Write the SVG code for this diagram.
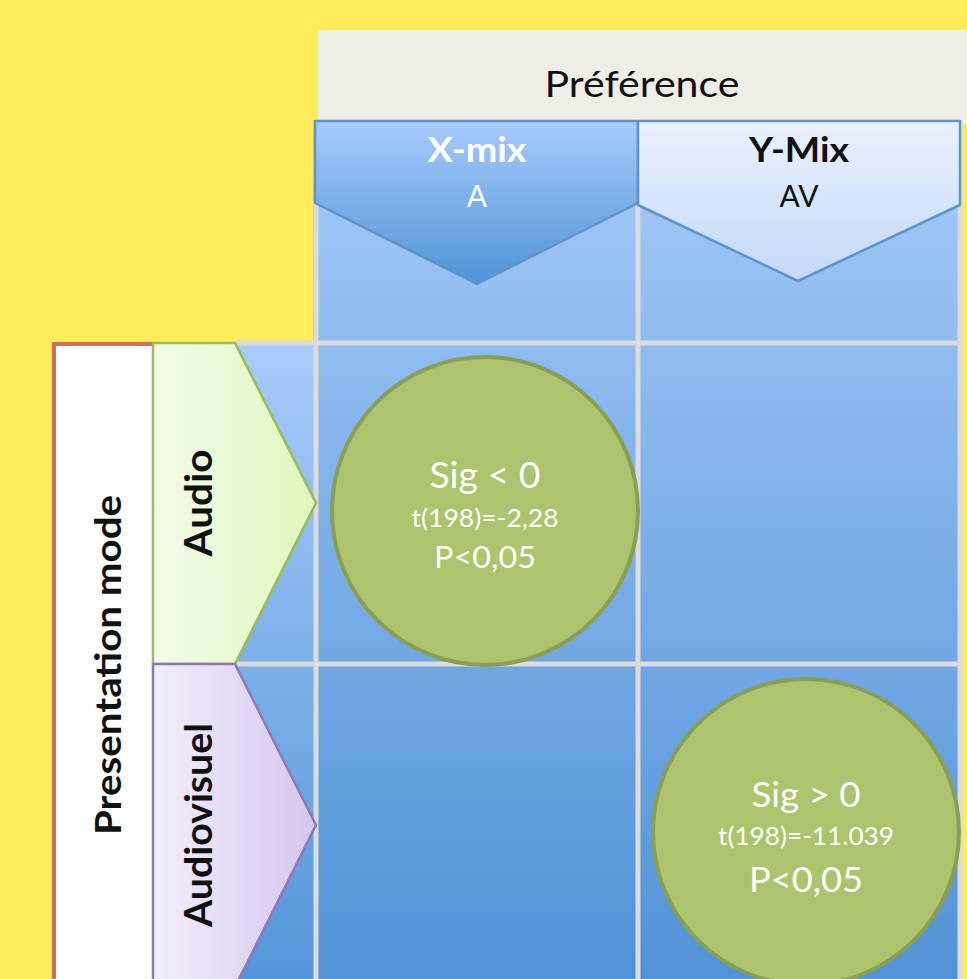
<svg xmlns="http://www.w3.org/2000/svg" width="967" height="979" viewBox="0 0 967 979">
  <defs>
    <linearGradient id="gBlueMain" x1="0" y1="120" x2="0" y2="979" gradientUnits="userSpaceOnUse">
      <stop offset="0" stop-color="#A6CAF9"/>
      <stop offset="1" stop-color="#5193D6"/>
    </linearGradient>
    <linearGradient id="gBlueLeft" x1="0" y1="343" x2="0" y2="979" gradientUnits="userSpaceOnUse">
      <stop offset="0" stop-color="#A8CBFA"/>
      <stop offset="1" stop-color="#5396D8"/>
    </linearGradient>
    <linearGradient id="gXmix" x1="0" y1="0" x2="0" y2="1">
      <stop offset="0" stop-color="#A7CBFB"/>
      <stop offset="1" stop-color="#5094D7"/>
    </linearGradient>
    <linearGradient id="gYmix" x1="0" y1="0" x2="0" y2="1">
      <stop offset="0" stop-color="#EAF2FD"/>
      <stop offset="1" stop-color="#C2D9F8"/>
    </linearGradient>
    <linearGradient id="gAudio" x1="0" y1="0" x2="1" y2="0">
      <stop offset="0" stop-color="#F3FBE9"/>
      <stop offset="1" stop-color="#DEF7BC"/>
    </linearGradient>
    <linearGradient id="gAV" x1="0" y1="0" x2="1" y2="0">
      <stop offset="0" stop-color="#F2EEF9"/>
      <stop offset="1" stop-color="#D6C6EE"/>
    </linearGradient>
  </defs>
  <style>
    text { font-family: Lato, "Open Sans", "Liberation Sans", sans-serif; text-anchor: middle; }
    .grid { stroke: #DCDCDC; stroke-width: 5; fill: none; }
    .circle { fill: #ABC46D; stroke: #8A9F55; stroke-width: 4; }
    .wt { fill: #FFFFFF; }
    .bk { fill: #111111; }
    .bold { font-weight: bold; }
  </style>

  <rect x="0" y="0" width="967" height="979" fill="#FEEC5B"/>

  <!-- header band -->
  <g id="preference">
    <rect x="318" y="30" width="649" height="94" fill="#EFEEE6"/>
    <text x="642" y="97" font-size="37" class="bk" textLength="195" lengthAdjust="spacingAndGlyphs">Préférence</text>
  </g>

  <!-- blue table background -->
  <rect x="313" y="120" width="649" height="859" fill="url(#gBlueMain)"/>
  <rect x="235" y="343" width="81" height="636" fill="url(#gBlueLeft)"/>

  <!-- grid lines (connectors group) -->
  <g id="connectors">
    <line class="grid" x1="316" y1="120" x2="316" y2="979"/>
    <line class="grid" x1="638" y1="120" x2="638" y2="979"/>
    <line class="grid" x1="960" y1="120" x2="960" y2="979"/>
    <line class="grid" x1="235" y1="343" x2="962" y2="343"/>
    <line class="grid" x1="235" y1="664" x2="962" y2="664"/>
  </g>

  <g id="xmix">
    <path d="M315,121 L638,121 L638,203 L477,284 L315,203 Z" fill="url(#gXmix)" stroke="#6192C9" stroke-width="2.5" stroke-linejoin="round"/>
    <text x="477" y="162" font-size="35" class="wt bold" textLength="99" lengthAdjust="spacingAndGlyphs">X-mix</text>
    <text x="477" y="207" font-size="30" class="wt">A</text>
  </g>

  <g id="ymix">
    <path d="M638,121 L960,121 L960,205 L798,281 L638,205 Z" fill="url(#gYmix)" stroke="#6192C9" stroke-width="2.5" stroke-linejoin="round"/>
    <text x="799" y="162" font-size="35" class="bk bold" textLength="100" lengthAdjust="spacingAndGlyphs">Y-Mix</text>
    <text x="799" y="207" font-size="30" class="bk">AV</text>
  </g>

  <g id="presentation-mode">
    <rect x="54" y="344" width="100" height="660" fill="#FFFFFF" stroke="#D46A64" stroke-width="4"/>
    <text transform="translate(121,665) rotate(-90)" font-size="37" class="bk bold" textLength="340" lengthAdjust="spacingAndGlyphs">Presentation mode</text>
  </g>

  <g id="audio">
    <path d="M153,343 L235,343 L316,503 L235,664 L153,664 Z" fill="url(#gAudio)" stroke="#9BBB59" stroke-width="2.5" stroke-linejoin="miter"/>
    <text transform="translate(212,503) rotate(-90)" font-size="38" class="bk bold" textLength="107" lengthAdjust="spacingAndGlyphs">Audio</text>
  </g>

  <g id="audiovisuel">
    <path d="M153,664 L235,664 L316,825 L235,987 L153,987 Z" fill="url(#gAV)" stroke="#8E78B6" stroke-width="2.5" stroke-linejoin="miter"/>
    <text transform="translate(212,825) rotate(-90)" font-size="38" class="bk bold" textLength="204" lengthAdjust="spacingAndGlyphs">Audiovisuel</text>
  </g>

  <g id="sig-audio">
    <ellipse class="circle" cx="485" cy="511" rx="153" ry="154"/>
    <text x="485" y="488" font-size="37" class="wt" textLength="111" lengthAdjust="spacingAndGlyphs">Sig &lt; 0</text>
    <text x="485" y="527" font-size="25" class="wt" textLength="147" lengthAdjust="spacingAndGlyphs">t(198)=-2,28</text>
    <text x="485" y="568" font-size="30" class="wt" textLength="102" lengthAdjust="spacingAndGlyphs">P&lt;0,05</text>
  </g>

  <g id="sig-av">
    <circle class="circle" cx="806" cy="832" r="153"/>
    <text x="806" y="807" font-size="35" class="wt" textLength="109" lengthAdjust="spacingAndGlyphs">Sig &gt; 0</text>
    <text x="806" y="845" font-size="25" class="wt" textLength="176" lengthAdjust="spacingAndGlyphs">t(198)=-11.039</text>
    <text x="806" y="892" font-size="35" class="wt" textLength="114" lengthAdjust="spacingAndGlyphs">P&lt;0,05</text>
  </g>
</svg>
